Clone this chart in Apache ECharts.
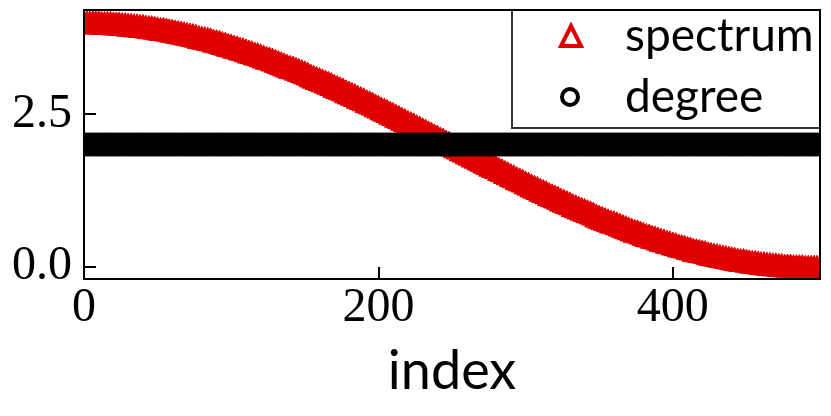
<!DOCTYPE html>
<html><head><meta charset="utf-8">
<script src="https://cdn.jsdelivr.net/npm/echarts@6/dist/echarts.min.js"></script>
<style>html,body{margin:0;padding:0;background:#fff}#c{width:831px;height:416px}</style>
</head><body><div id="c"></div>
<script>
// spectrum sampled at every 2nd index (0, 2, ..., 498)
const spectrumStep = 2;
const spectrum = [
4.00,4.00,4.00,4.00,4.00,4.00,3.99,3.99,3.99,3.99,
3.98,3.98,3.98,3.97,3.97,3.96,3.96,3.95,3.95,3.94,
3.94,3.93,3.92,3.92,3.91,3.90,3.89,3.89,3.88,3.87,
3.86,3.85,3.84,3.83,3.82,3.81,3.80,3.79,3.78,3.76,
3.75,3.74,3.73,3.72,3.70,3.69,3.68,3.66,3.65,3.63,
3.62,3.60,3.59,3.57,3.56,3.54,3.52,3.51,3.49,3.48,
3.46,3.44,3.42,3.41,3.39,3.37,3.35,3.33,3.31,3.29,
3.27,3.26,3.24,3.22,3.20,3.18,3.16,3.13,3.11,3.09,
3.07,3.05,3.03,3.01,2.99,2.96,2.94,2.92,2.90,2.87,
2.85,2.83,2.81,2.78,2.76,2.74,2.71,2.69,2.67,2.64,
2.62,2.59,2.57,2.55,2.52,2.50,2.47,2.45,2.42,2.40,
2.37,2.35,2.33,2.30,2.28,2.25,2.23,2.20,2.18,2.15,
2.13,2.10,2.08,2.05,2.03,2.00,
1.97,1.95,1.92,1.90,1.87,1.85,1.82,1.80,1.77,1.75,
1.72,1.70,1.67,1.65,1.63,1.60,1.58,1.55,1.53,1.50,
1.48,1.45,1.43,1.41,1.38,1.36,1.33,1.31,1.29,1.26,
1.24,1.22,1.19,1.17,1.15,1.13,1.10,1.08,1.06,1.04,
1.01,0.99,0.97,0.95,0.93,0.91,0.89,0.87,0.84,0.82,
0.80,0.78,0.76,0.74,0.73,0.71,0.69,0.67,0.65,0.63,
0.61,0.59,0.58,0.56,0.54,0.52,0.51,0.49,0.48,0.46,
0.44,0.43,0.41,0.40,0.38,0.37,0.35,0.34,0.33,0.31,
0.30,0.28,0.27,0.26,0.25,0.24,0.22,0.21,0.20,0.19,
0.18,0.17,0.16,0.15,0.14,0.13,0.12,0.11,0.11,0.10,
0.09,0.08,0.08,0.07,0.06,0.06,0.05,0.05,0.04,0.04,
0.03,0.03,0.02,0.02,0.02,0.01,0.01,0.01,0.01,0.00,
0.00,0.00,0.00,0.00
];
// degree sampled at every 2nd index (0, 2, ..., 498)
const degreeStep = 2;
const degree = [
2,2,2,2,2,2,2,2,2,2,2,2,2,2,2,2,2,2,2,2,2,2,2,2,2,
2,2,2,2,2,2,2,2,2,2,2,2,2,2,2,2,2,2,2,2,2,2,2,2,2,
2,2,2,2,2,2,2,2,2,2,2,2,2,2,2,2,2,2,2,2,2,2,2,2,2,
2,2,2,2,2,2,2,2,2,2,2,2,2,2,2,2,2,2,2,2,2,2,2,2,2,
2,2,2,2,2,2,2,2,2,2,2,2,2,2,2,2,2,2,2,2,2,2,2,2,2,
2,2,2,2,2,2,2,2,2,2,2,2,2,2,2,2,2,2,2,2,2,2,2,2,2,
2,2,2,2,2,2,2,2,2,2,2,2,2,2,2,2,2,2,2,2,2,2,2,2,2,
2,2,2,2,2,2,2,2,2,2,2,2,2,2,2,2,2,2,2,2,2,2,2,2,2,
2,2,2,2,2,2,2,2,2,2,2,2,2,2,2,2,2,2,2,2,2,2,2,2,2,
2,2,2,2,2,2,2,2,2,2,2,2,2,2,2,2,2,2,2,2,2,2,2,2,2
];
const xTicks = [0, 200, 400];
const yTicks = [0, 2.5];
const yTickLabels = {'0': '0.0', '2.5': '2.5'};

const RED = '#e00000';
const SERIF = '"Liberation Serif", "DejaVu Serif", serif';
const SANS = 'Lato, "Open Sans", sans-serif';

const chart = echarts.init(document.getElementById('c'), null, {renderer: 'canvas'});

const spectrumData = spectrum.map((v, i) => [i * spectrumStep, v]);
const degreeData = degree.map((v, i) => [i * degreeStep, v]);

const TRI = 23, CIR = 11.5;
const axisLineStyle = {color: '#000', width: 2};

chart.setOption({
  animation: false,
  backgroundColor: '#fff',
  grid: {left: 84, right: 11, top: 10, bottom: 137, outerBoundsMode: 'none'},
  xAxis: [{
    type: 'value', min: 0, max: 500, position: 'bottom', z: 10,
    axisLine: {show: true, onZero: false, lineStyle: axisLineStyle},
    axisTick: {show: true, inside: true, length: 12, lineStyle: axisLineStyle, customValues: xTicks},
    axisLabel: {show: true, customValues: xTicks, margin: 5, color: '#000', fontFamily: SERIF, fontSize: 48},
    splitLine: {show: false},
    name: 'index', nameLocation: 'middle', nameGap: 66,
    nameTextStyle: {fontFamily: SANS, fontSize: 54, color: '#000'}
  }, {
    type: 'value', min: 0, max: 500, position: 'top', z: 10,
    axisLine: {show: true, onZero: false, lineStyle: axisLineStyle},
    axisTick: {show: false}, axisLabel: {show: false}, splitLine: {show: false}
  }],
  yAxis: [{
    type: 'value', min: -0.2, max: 4.2, position: 'left', z: 10,
    axisLine: {show: true, onZero: false, lineStyle: axisLineStyle},
    axisTick: {show: true, inside: true, length: 12, lineStyle: axisLineStyle, customValues: yTicks},
    axisLabel: {show: true, customValues: yTicks, margin: 12, color: '#000', fontFamily: SERIF, fontSize: 48,
      formatter: v => yTickLabels[String(v)] ?? String(v)},
    splitLine: {show: false}
  }, {
    type: 'value', min: -0.2, max: 4.2, position: 'right', z: 10,
    axisLine: {show: true, onZero: false, lineStyle: axisLineStyle},
    axisTick: {show: false}, axisLabel: {show: false}, splitLine: {show: false}
  }],
  legend: [{
    data: [{name: 'spectrum', icon: 'triangle', itemStyle: {color: '#fff', borderColor: RED, borderWidth: 4}}],
    left: 559, top: 13, orient: 'vertical', padding: 0, itemWidth: 20, itemHeight: 20,
    selectedMode: false, z: 6,
    textStyle: {fontFamily: SANS, fontSize: 46, color: '#000', padding: [0, 0, 0, 39]}
  }, {
    data: [{name: 'degree', icon: 'circle', itemStyle: {color: '#fff', borderColor: '#000', borderWidth: 4}}],
    left: 560, top: 74, orient: 'vertical', padding: 0, itemWidth: 16, itemHeight: 16,
    selectedMode: false, z: 6,
    textStyle: {fontFamily: SANS, fontSize: 46, color: '#000', padding: [0, 0, 0, 42]}
  }],
  graphic: [{
    type: 'rect', z: 5, silent: true,
    shape: {x: 512, y: 10, width: 308, height: 118},
    style: {fill: '#fff', stroke: '#333', lineWidth: 2}
  }],
  series: [{
    type: 'custom', name: 'spectrum', xAxisIndex: 0, yAxisIndex: 0, clip: true, z: 2,
    itemStyle: {color: RED},
    encode: {x: 0, y: 1},
    data: spectrumData,
    renderItem: (params, api) => {
      const p = api.coord([api.value(0), api.value(1)]);
      return {type: 'polygon', shape: {points: [[p[0], p[1] - TRI / 2], [p[0] - TRI / 2, p[1] + TRI / 2], [p[0] + TRI / 2, p[1] + TRI / 2]]},
        style: {fill: RED, stroke: RED, lineWidth: 1}};
    }
  }, {
    type: 'custom', name: 'degree', xAxisIndex: 0, yAxisIndex: 0, clip: true, z: 3,
    itemStyle: {color: '#000'},
    encode: {x: 0, y: 1},
    data: degreeData,
    renderItem: (params, api) => {
      const p = api.coord([api.value(0), api.value(1)]);
      return {type: 'circle', shape: {cx: p[0], cy: p[1], r: CIR}, style: {fill: '#000', stroke: '#000', lineWidth: 1}};
    }
  }]
});
</script>
</body></html>
